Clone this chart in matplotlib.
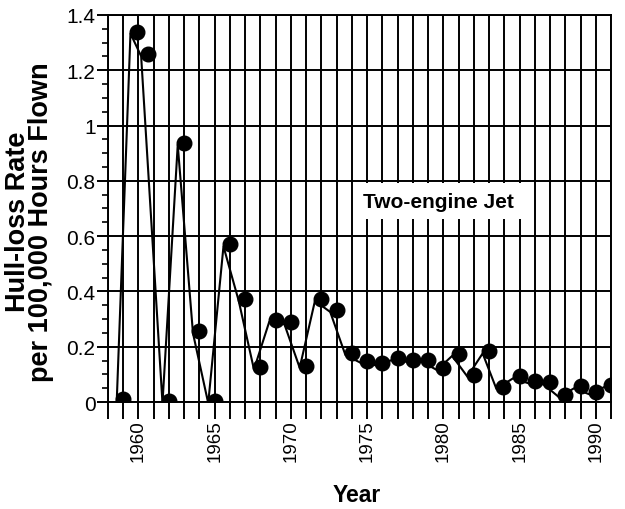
import numpy as np
import matplotlib.pyplot as plt
import matplotlib.transforms as mtransforms
from matplotlib.ticker import MultipleLocator, FuncFormatter

plt.rcParams['font.family'] = ['Liberation Sans', 'DejaVu Sans']

# hull-loss rate, two-engine jets
years = [1959, 1959.9, 1960.6, 1962, 1963, 1964, 1965, 1966, 1967, 1968,
         1969, 1970, 1971, 1972, 1973, 1974, 1975, 1976, 1977, 1978,
         1979, 1980, 1981, 1982, 1983, 1983.9, 1985, 1986, 1987, 1988,
         1989, 1990, 1991]
rate = [0.011, 1.340, 1.258, 0.003, 0.937, 0.256, 0.003, 0.570, 0.373, 0.125,
        0.297, 0.288, 0.131, 0.373, 0.333, 0.177, 0.149, 0.140, 0.158, 0.153,
        0.153, 0.123, 0.174, 0.099, 0.183, 0.055, 0.093, 0.075, 0.071, 0.025,
        0.057, 0.035, 0.062]

fig = plt.figure(figsize=(6.25, 5.1), dpi=100)
ax = fig.add_axes([0.1728, 0.2098, 0.805, 0.759])

# the connecting line sits a little left/below the dots in the original
shift = mtransforms.ScaledTranslation(-6.5 / 100, -2 / 100, fig.dpi_scale_trans)
ax.plot(years, rate, color='k', lw=1.5, transform=ax.transData + shift, zorder=3)
ax.plot(years, rate, 'o', color='k', ms=10.5, zorder=4)

ax.set_xlim(1958, 1991)
ax.set_ylim(0, 1.4)

ax.xaxis.set_major_locator(MultipleLocator(5))
ax.xaxis.set_minor_locator(MultipleLocator(1))
ax.yaxis.set_major_locator(MultipleLocator(0.2))
ax.yaxis.set_minor_locator(MultipleLocator(0.05))
ax.yaxis.set_major_formatter(FuncFormatter(lambda v, p: '%g' % round(v, 2)))

ax.grid(which='both', axis='x', color='k', lw=1.4)
ax.grid(which='major', axis='y', color='k', lw=1.4)
ax.set_axisbelow(True)
for s in ax.spines.values():
    s.set_linewidth(1.4)

ax.tick_params(axis='x', which='both', direction='out', length=12, width=1.4,
               labelsize=13.5, labelrotation=90, pad=0.5)
ax.tick_params(axis='y', which='major', direction='out', length=8, width=1.4,
               labelsize=15, pad=1)
ax.tick_params(axis='y', which='minor', direction='out', length=4, width=1.2)

ax.set_xlabel('Year', fontsize=16.5, fontweight='bold', va='center')
ax.xaxis.set_label_coords(0.495, -0.24)
ax.set_ylabel('Hull-loss Rate\nper 100,000 Hours Flown', fontsize=19.5,
              fontweight='bold', linespacing=0.88, va='center')
ax.yaxis.set_label_coords(-0.156, 0.468)

ax.text(0.656, 0.519, 'Two-engine Jet', transform=ax.transAxes,
        fontsize=15, fontweight='bold', ha='center', va='center',
        bbox=dict(facecolor='white', edgecolor='none', pad=6), zorder=5)

fig.savefig('out.png', dpi=100)
